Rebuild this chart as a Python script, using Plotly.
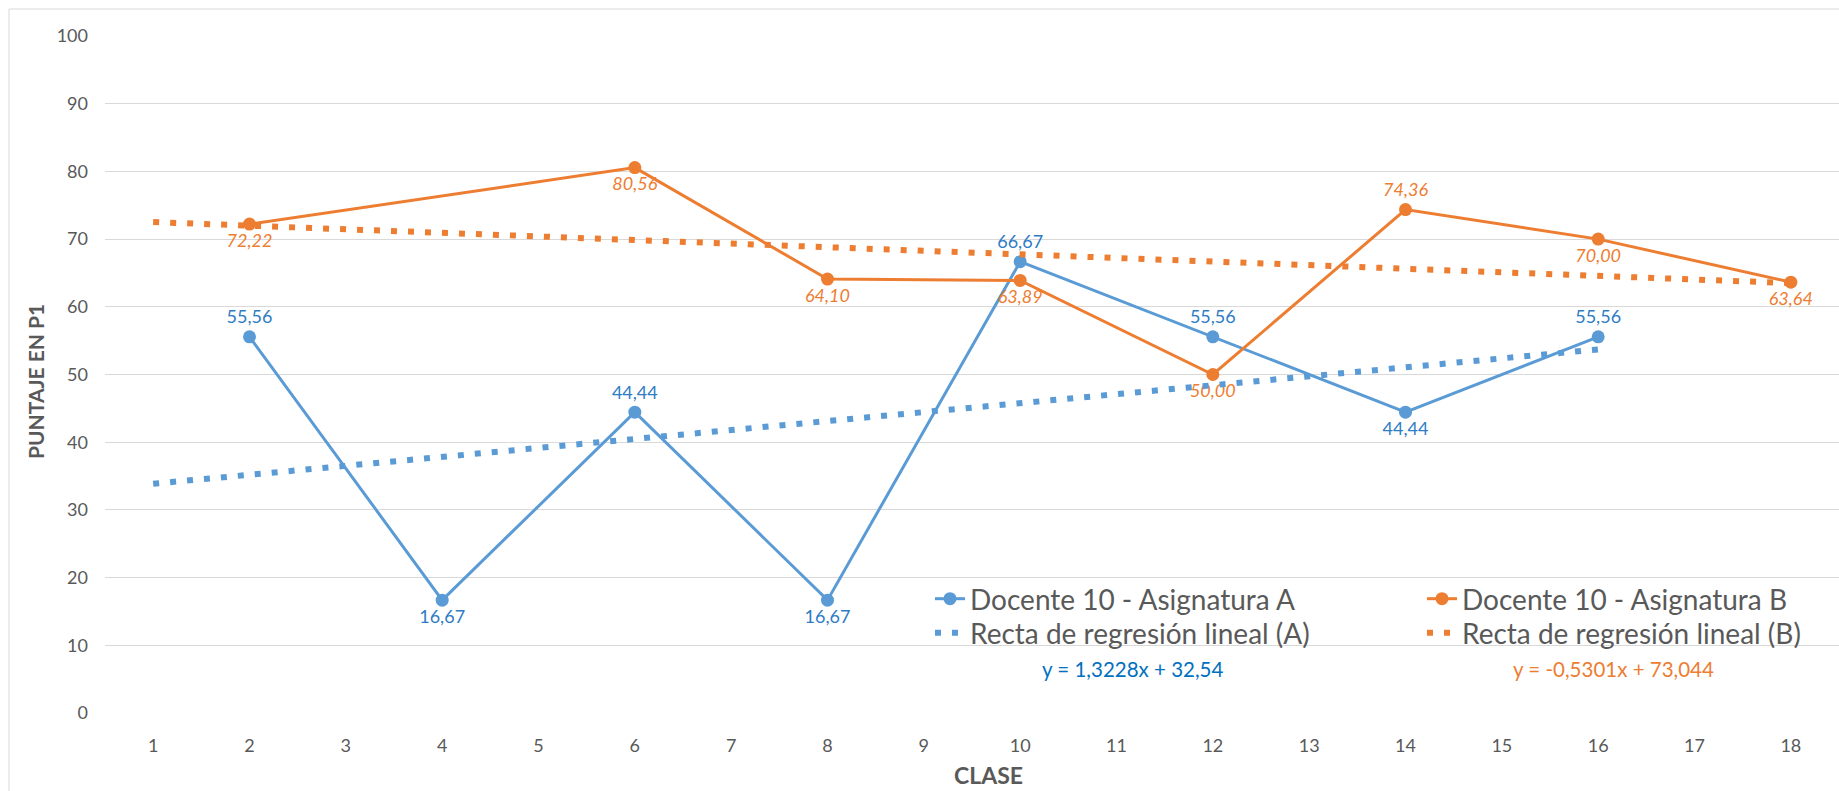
import numpy as np
import plotly.graph_objects as go

# ---- data ----
x_a = [2, 4, 6, 8, 10, 12, 14, 16]
y_a = [55.56, 16.67, 44.44, 16.67, 66.67, 55.56, 44.44, 55.56]
pos_a = ["top center", "bottom center", "top center", "bottom center",
         "top center", "top center", "bottom center", "top center"]

x_b = [2, 6, 8, 10, 12, 14, 16, 18]
y_b = [72.22, 80.56, 64.10, 63.89, 50.00, 74.36, 70.00, 63.64]
pos_b = ["bottom center", "bottom center", "bottom center", "bottom center",
         "bottom center", "top center", "bottom center", "bottom center"]

trend_x_a = [1, 16]
trend_x_b = [1, 18]

name_a = "Docente 10 - Asignatura A"
name_b = "Docente 10 - Asignatura B"
name_ta = "Recta de regresión lineal (A)"
name_tb = "Recta de regresión lineal (B)"
eq_a = "y = 1,3228x + 32,54"
eq_b = "y = -0,5301x + 73,044"

x_ticks = list(range(1, 19))
y_title = "PUNTAJE EN P1"
x_title = "CLASE"

# ---- styling ----
BLUE = "#5B9BD5"
ORANGE = "#ED7D31"
BLUE_TXT = "#2E7CC4"
EQ_BLUE = "#0070C0"
GRAY = "#595959"
GRID = "#D9D9D9"
FONT = "Lato"

W, H = 1839, 791
L, R, T, B = 105, 0, 36, 78
pw, ph = W - L - R, H - T - B

# regression from data
ca = np.polyfit(x_a, y_a, 1)
cb = np.polyfit(x_b, y_b, 1)
ty_a = [float(np.polyval(ca, v)) for v in trend_x_a]
ty_b = [float(np.polyval(cb, v)) for v in trend_x_b]

fig = go.Figure()

fig.add_trace(go.Scatter(
    x=x_a, y=y_a, name=name_a, mode="lines+markers+text",
    line=dict(color=BLUE, width=3), marker=dict(color=BLUE, size=13),
    texttemplate="%{y:.2f}", textposition=pos_a,
    textfont=dict(color=BLUE_TXT, size=18, family=FONT),
    legend="legend",
))
fig.add_trace(go.Scatter(
    x=x_b, y=y_b, name=name_b, mode="lines+markers+text",
    line=dict(color=ORANGE, width=3), marker=dict(color=ORANGE, size=13),
    texttemplate="<i>%{y:.2f}</i>", textposition=pos_b,
    textfont=dict(color=ORANGE, size=18, family=FONT),
    legend="legend2",
))
fig.add_trace(go.Scatter(
    x=trend_x_a, y=ty_a, name=name_ta, mode="lines",
    line=dict(color=BLUE, width=6, dash="6px,11px"),
    legend="legend3",
))
fig.add_trace(go.Scatter(
    x=trend_x_b, y=ty_b, name=name_tb, mode="lines",
    line=dict(color=ORANGE, width=6, dash="6px,11px"),
    legend="legend4",
))

def px_x(p):
    return (p - L) / pw

def px_y(p):
    return (H - B - p) / ph

legend_common = dict(
    orientation="v", xanchor="left", yanchor="middle",
    bgcolor="rgba(0,0,0,0)", font=dict(family=FONT, size=28, color=GRAY),
    tracegroupgap=0, itemwidth=30,
)

col1, col2 = 930, 1422
row1, row2 = 599, 633

fig.update_layout(
    width=W, height=H,
    margin=dict(l=L, r=R, t=T, b=B),
    paper_bgcolor="white", plot_bgcolor="white",
    separators=",.",
    font=dict(family=FONT, color=GRAY, size=18),
    showlegend=True,
    legend=dict(x=px_x(col1), y=px_y(row1), **legend_common),
    legend2=dict(x=px_x(col2), y=px_y(row1), **legend_common),
    legend3=dict(x=px_x(col1), y=px_y(row2), **legend_common),
    legend4=dict(x=px_x(col2), y=px_y(row2), **legend_common),
    xaxis=dict(
        range=[0.5, 18.5], tickmode="array", tickvals=x_ticks,
        ticktext=[str(v) for v in x_ticks],
        showgrid=False, zeroline=False, showline=False,
        ticks="", ticklabelstandoff=20,
        tickfont=dict(family=FONT, size=18, color=GRAY),
    ),
    yaxis=dict(
        range=[0, 100], dtick=10, showgrid=True, gridcolor=GRID, gridwidth=1,
        zeroline=False, showline=False, ticks="", ticklabelstandoff=16,
        tickfont=dict(family=FONT, size=18, color=GRAY),
    ),
    annotations=[
        dict(text=f"<b>{y_title}</b>", xref="paper", yref="paper",
             x=px_x(35), y=px_y(382), textangle=-90, showarrow=False,
             xanchor="center", yanchor="middle",
             font=dict(family=FONT, size=21, color=GRAY)),
        dict(text=f"<b>{x_title}</b>", xref="paper", yref="paper",
             x=px_x(989), y=px_y(775), showarrow=False,
             xanchor="center", yanchor="middle",
             font=dict(family=FONT, size=23, color=GRAY)),
        dict(text=eq_a, xref="paper", yref="paper",
             x=px_x(1132), y=px_y(669), showarrow=False,
             xanchor="center", yanchor="middle",
             font=dict(family=FONT, size=20.5, color=EQ_BLUE)),
        dict(text=eq_b, xref="paper", yref="paper",
             x=px_x(1613), y=px_y(669), showarrow=False,
             xanchor="center", yanchor="middle",
             font=dict(family=FONT, size=20.5, color=ORANGE)),
    ],
    shapes=[
        dict(type="rect", xref="paper", yref="paper",
             x0=px_x(9), x1=1.2, y0=-0.5, y1=px_y(9),
             line=dict(color=GRID, width=1), fillcolor="rgba(0,0,0,0)",
             layer="below"),
    ],
)

fig.write_html("out.html")
